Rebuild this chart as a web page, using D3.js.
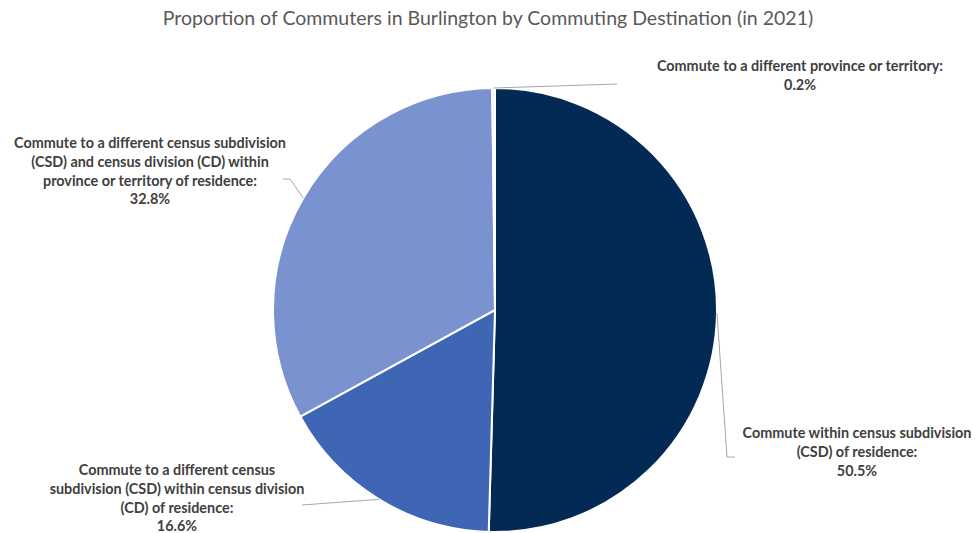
<!DOCTYPE html>
<html>
<head>
<meta charset="utf-8">
<script src="https://cdn.jsdelivr.net/npm/d3@7"></script>
<style>
  body { margin: 0; background: #fff; }
  svg { display: block; }
  .title { font-family: Lato, "Open Sans", sans-serif; font-size: 19.5px; fill: #595959; }
  .lbl { font-family: Lato, "Open Sans", sans-serif; font-size: 14.4px; font-weight: bold; fill: #404040; }
  .leader { fill: none; stroke: #a6a6a6; stroke-width: 1; }
</style>
</head>
<body>
<svg id="chart" width="976" height="533"></svg>
<script>
// slice data, clockwise from 12 o'clock
const categories = [
    "Commute within census subdivision (CSD) of residence",
    "Commute to a different census subdivision (CSD) within census division (CD) of residence",
    "Commute to a different census subdivision (CSD) and census division (CD) within province or territory of residence",
    "Commute to a different province or territory"
];
const values = [50.5, 16.6, 32.8, 0.2];
const colors = ["#032a54", "#3e66b4", "#7a92cf", "#e4e9f4"];

// label lines as they wrap in the picture
const labelLines = [
    ["Commute within census subdivision", "(CSD) of residence:", "50.5%"],
    ["Commute to a different census", "subdivision (CSD) within census division", "(CD) of residence:", "16.6%"],
    ["Commute to a different census subdivision", "(CSD) and census division (CD) within", "province or territory of residence:", "32.8%"],
    ["Commute to a different province or territory:", "0.2%"]
];

const svg = d3.select("#chart");
const cx = 495, cy = 310, radius = 222;

svg.append("text")
    .attr("class", "title")
    .attr("x", 488)
    .attr("y", 25)
    .attr("text-anchor", "middle")
    .text("Proportion of Commuters in Burlington by Commuting Destination (in 2021)");

const pie = d3.pie().sort(null).value(d => d);
const arcs = pie(values);
const arc = d3.arc().innerRadius(0).outerRadius(radius);

const g = svg.append("g").attr("transform", `translate(${cx},${cy})`);

g.selectAll("path.slice")
    .data(arcs)
    .join("path")
    .attr("class", "slice")
    .attr("d", arc)
    .attr("fill", (d, i) => colors[i])
    .attr("stroke", "#fff")
    .attr("stroke-width", 2);

// label placement (layout), relative to chart
const labelPos = [
    { x: 857, y: 438, elbow: [[727, 457], [735, 457]] },
    { x: 177, y: 475, elbow: [[302, 505]] },
    { x: 150, y: 148, elbow: [[290, 179], [283, 179]] },
    { x: 800, y: 71, elbow: [[617, 84]] }
];

arcs.forEach((a, i) => {
    const mid = (a.startAngle + a.endAngle) / 2;
    const px = cx + radius * Math.sin(mid);
    const py = cy - radius * Math.cos(mid);
    const pts = [[px, py]].concat(labelPos[i].elbow);
    svg.append("path")
        .attr("class", "leader")
        .attr("d", d3.line()(pts));

    const t = svg.append("text")
        .attr("class", "lbl")
        .attr("text-anchor", "middle")
        .attr("x", labelPos[i].x)
        .attr("y", labelPos[i].y);
    labelLines[i].forEach((ln, j) => {
        t.append("tspan")
            .attr("x", labelPos[i].x)
            .attr("dy", j === 0 ? 0 : 18.8)
            .text(ln);
    });
});
</script>
</body>
</html>
